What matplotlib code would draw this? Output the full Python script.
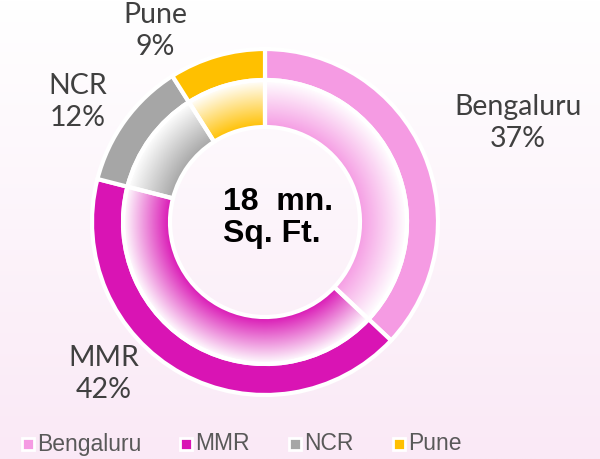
import matplotlib
matplotlib.use("Agg")
import matplotlib.pyplot as plt
import matplotlib.colors as mcolors
import numpy as np

# data
cities = ["Bengaluru", "MMR", "NCR", "Pune"]
shares = [37, 42, 12, 9]
colors = ["#F59BE3", "#D914B4", "#A6A6A6", "#FFC000"]
center_text = "18  mn.\nSq. Ft."

W, H = 600, 459
fig = plt.figure(figsize=(W / 100, H / 100), dpi=100)
ax = fig.add_axes([0, 0, 1, 1])

# background: white at top fading to light pink at the bottom
top = np.array([1.0, 1.0, 1.0])
bot = np.array([250, 233, 246]) / 255
yy = np.linspace(0, 1, 200)[:, None]
bg = (top * (1 - yy) + bot * yy)[:, None, :].repeat(2, axis=1)
ax.imshow(bg, extent=(0, W, 0, H), origin="upper", aspect="auto", zorder=0)

cx, cy = 265, H - 222
r_out, r_mid, r_hole = 173, 142, 95

# outer solid ring
outer, _ = ax.pie(shares, colors=colors, radius=r_out, center=(cx, cy),
                  startangle=90, counterclock=False,
                  wedgeprops=dict(width=r_out - r_mid, edgecolor="white", linewidth=3))
for w in outer:
    w.set_zorder(3)

# inner ring with radial gradient (colour at hole -> white at outer edge)
inner, _ = ax.pie(shares, colors=["none"] * 4, radius=r_mid, center=(cx, cy),
                  startangle=90, counterclock=False,
                  wedgeprops=dict(width=r_mid - r_hole, edgecolor="white", linewidth=3))
n = 400
gx = np.linspace(cx - r_mid, cx + r_mid, n)
gy = np.linspace(cy + r_mid, cy - r_mid, n)
X, Y = np.meshgrid(gx, gy)
R = np.hypot(X - cx, Y - cy)
t = np.clip((R - r_hole) / (r_mid - r_hole), 0, 1)[..., None]
for w, c in zip(inner, colors):
    rgb = np.array(mcolors.to_rgb(c))
    img = rgb * (1 - t) + np.ones(3) * t
    im = ax.imshow(img, extent=(cx - r_mid, cx + r_mid, cy - r_mid, cy + r_mid),
                   origin="upper", zorder=2, interpolation="bilinear")
    im.set_clip_path(w)
    w.set_zorder(4)

# data labels
label_pos = [(518, 123), (104, 374), (78, 102), (155, 31)]
for name, val, (lx, ly) in zip(cities, shares, label_pos):
    ax.text(lx, H - ly, f"{name}\n{val}%", ha="center", va="center",
            fontsize=20.5, family="Lato", color="#404040", linespacing=1.3, zorder=5)

ax.text(223, H - 218, center_text, ha="left", va="center", fontsize=23,
        family="Liberation Sans", fontweight="bold", color="black",
        linespacing=1.1, zorder=5)

# legend
leg_x = [28, 186, 295, 399]
leg_y = H - 444
for name, c, lx in zip(cities, colors, leg_x):
    ax.plot(lx, leg_y, marker="s", markersize=9, color=c, markeredgecolor="white",
            markeredgewidth=2, zorder=5)
    ax.text(lx + 9, leg_y, name, ha="left", va="center", fontsize=16.5,
            family="Liberation Sans", color="#595959", zorder=5)

ax.set_xlim(0, W)
ax.set_ylim(0, H)
ax.set_aspect("auto")
ax.axis("off")

fig.savefig("out.png", dpi=100)
